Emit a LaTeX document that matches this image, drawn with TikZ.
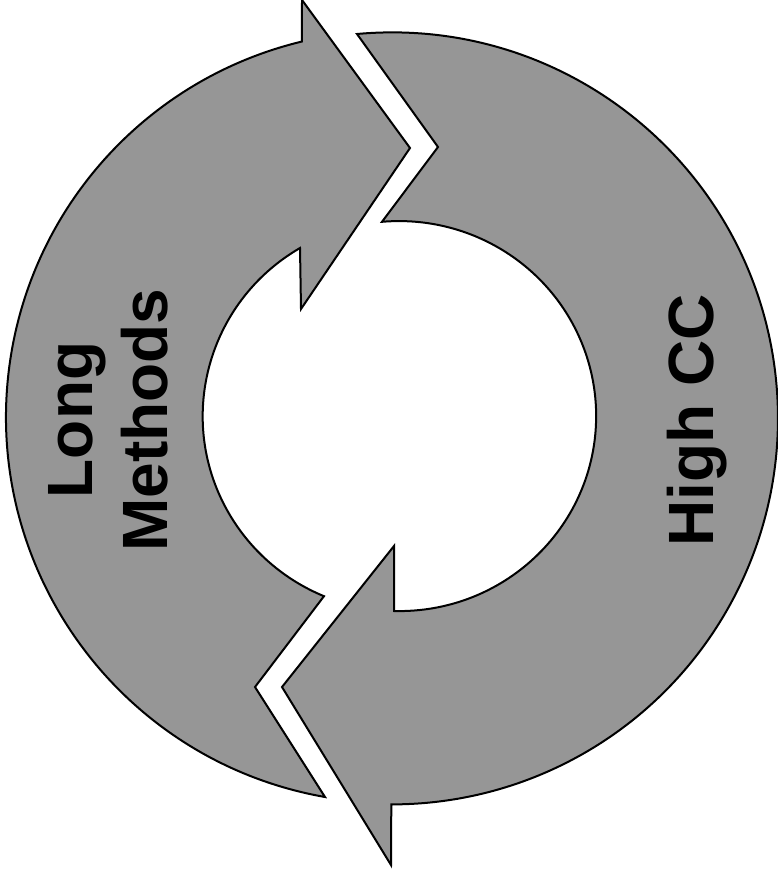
\documentclass[tikz,border=0pt]{standalone}
\usepackage{fontspec}
\newfontfamily\labelfont{Liberation Sans}
\definecolor{ringgray}{RGB}{150,150,150}
\tikzset{
  ringarrow/.style={fill=ringgray, draw=black, line width=2pt, line join=miter},
  ringlabel/.style={font=\labelfont\bfseries\fontsize{64}{75}\selectfont, rotate=90, inner sep=0pt, align=center}
}
\begin{document}
\begin{tikzpicture}[x=1pt, y=-1pt]
  \useasboundingbox (0,0) rectangle (778,877);
  % left arrow, pointing up
  \draw[ringarrow] (325,797) arc[start angle=100, end angle=256.5, radius=386]
    -- (302,0) -- (410,148) -- (301,309) -- (300,248)
    arc[start angle=239.6, end angle=112.6, x radius=197, y radius=195]
    -- (255,687) -- cycle;
  % right arrow, pointing down
  \draw[ringarrow] (357,34) arc[start angle=264.8, end angle=450.1, radius=386]
    -- (391,865) -- (282,687) -- (394,546) -- (394,611)
    arc[start angle=91.5, end angle=-95, x radius=197, y radius=195]
    -- (438,147) -- cycle;
  % labels
  \node[ringlabel] (longmethods) at (108,420) {Long\\Methods};
  \node[ringlabel, anchor=base] (highcc) at (713,420) {High CC};
\end{tikzpicture}
\end{document}
